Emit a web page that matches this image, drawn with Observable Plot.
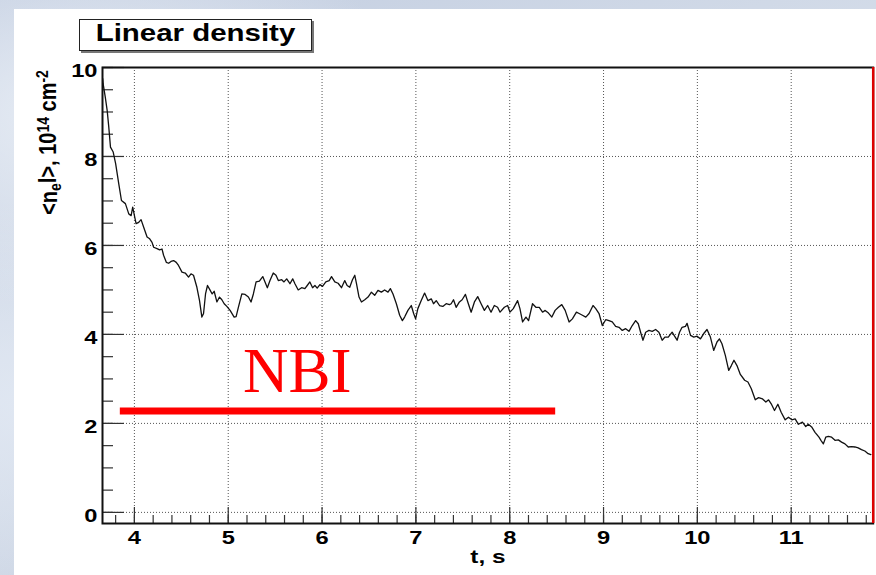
<!DOCTYPE html>
<html>
<head>
<meta charset="utf-8">
<script src="https://cdn.jsdelivr.net/npm/d3@7"></script>
<script src="https://cdn.jsdelivr.net/npm/@observablehq/plot@0.6"></script>
<style>
html, body { margin: 0; padding: 0; }
body {
  width: 876px; height: 575px; overflow: hidden; position: relative;
  background:
    radial-gradient(ellipse at 10% 20%, rgba(235,240,247,0.9) 0%, rgba(235,240,247,0) 30%),
    radial-gradient(ellipse at 5% 70%, rgba(225,232,243,0.9) 0%, rgba(225,232,243,0) 35%),
    linear-gradient(160deg, #c2cde0 0%, #d6deea 45%, #bfcadc 100%);
}
#chart { position: absolute; left: 14px; top: 9px; }
#title {
  position: absolute; left: 79px; top: 19px; width: 231px; height: 30px;
  border: 1px solid #222; box-shadow: 2px 2px 0 #777; background: #fff;
}
#title span {
  position: absolute; left: 0; right: 0; top: 0; text-align: center;
  line-height: 30px; font: bold 23px "Liberation Sans", Arial, sans-serif;
  transform: scaleX(1.28); white-space: nowrap; color: #000;
}
</style>
</head>
<body>
<div id="chart"></div>
<div id="title"><span>Linear density</span></div>
<script>
// ---- data ----
const time = [3.662,3.667,3.69,3.71,3.727,3.745,3.774,3.80,3.833,3.862,3.904,3.94,3.965,3.982,4.003,4.018,4.046,4.071,4.099,4.135,4.163,4.188,4.205,4.241,4.269,4.294,4.311,4.34,4.365,4.39,4.418,4.446,4.47,4.507,4.542,4.577,4.603,4.63,4.666,4.694,4.719,4.737,4.758,4.779,4.808,4.829,4.85,4.879,4.907,4.932,4.957,4.985,5.02,5.063,5.084,5.108,5.145,5.18,5.215,5.243,5.268,5.297,5.332,5.368,5.392,5.417,5.445,5.48,5.509,5.534,5.57,5.594,5.623,5.658,5.687,5.711,5.746,5.782,5.817,5.842,5.87,5.899,5.924,5.948,5.977,6.005,6.04,6.076,6.101,6.136,6.171,6.207,6.242,6.267,6.295,6.324,6.349,6.367,6.394,6.42,6.455,6.49,6.526,6.561,6.596,6.632,6.667,6.703,6.728,6.756,6.792,6.827,6.856,6.88,6.915,6.951,6.976,6.997,7.021,7.057,7.093,7.128,7.164,7.188,7.217,7.252,7.287,7.323,7.358,7.376,7.401,7.429,7.464,7.493,7.528,7.553,7.589,7.624,7.659,7.695,7.73,7.765,7.801,7.836,7.871,7.897,7.943,7.978,8.003,8.038,8.084,8.109,8.137,8.173,8.201,8.243,8.279,8.315,8.35,8.378,8.413,8.449,8.484,8.519,8.555,8.591,8.633,8.668,8.711,8.74,8.775,8.811,8.846,8.888,8.917,8.952,8.987,9.023,9.058,9.093,9.129,9.165,9.2,9.236,9.271,9.306,9.342,9.37,9.395,9.42,9.449,9.484,9.519,9.555,9.59,9.625,9.654,9.69,9.731,9.757,9.784,9.81,9.837,9.873,9.89,9.927,9.962,9.997,10.033,10.068,10.103,10.139,10.174,10.209,10.235,10.262,10.298,10.334,10.362,10.39,10.422,10.458,10.504,10.539,10.575,10.617,10.652,10.695,10.73,10.759,10.787,10.822,10.858,10.893,10.936,10.971,11.007,11.042,11.077,11.12,11.155,11.183,11.218,11.254,11.296,11.317,11.343,11.368,11.396,11.431,11.467,11.502,11.537,11.573,11.608,11.643,11.679,11.714,11.749,11.785,11.82,11.849];
const density = [9.75,9.63,9.33,9.03,8.66,8.21,8.10,7.84,7.39,7.01,6.94,6.71,6.67,6.86,6.64,6.49,6.52,6.58,6.41,6.19,6.15,6.07,5.96,5.93,5.90,5.92,5.78,5.62,5.60,5.64,5.66,5.62,5.55,5.40,5.38,5.29,5.36,5.33,5.06,4.76,4.39,4.47,4.91,5.10,4.99,4.91,4.97,4.73,4.84,4.78,4.69,4.63,4.54,4.39,4.40,4.61,4.91,4.90,4.84,4.73,4.91,5.18,5.20,5.30,5.18,5.05,5.21,5.38,5.33,5.21,5.23,5.18,5.25,5.14,5.25,5.14,5.00,5.05,5.03,5.10,5.18,5.05,5.10,5.04,5.12,5.08,5.18,5.21,5.30,5.18,5.15,5.05,5.21,5.10,5.06,5.23,5.33,5.14,4.84,4.73,4.78,4.84,4.95,4.88,4.99,4.95,5.00,4.95,5.03,4.91,4.69,4.43,4.31,4.39,4.54,4.65,4.47,4.35,4.58,4.76,4.93,4.76,4.80,4.69,4.76,4.65,4.63,4.69,4.67,4.69,4.78,4.61,4.73,4.78,4.90,4.73,4.50,4.73,4.85,4.69,4.54,4.65,4.50,4.65,4.61,4.50,4.61,4.65,4.50,4.58,4.76,4.58,4.28,4.39,4.31,4.69,4.61,4.61,4.50,4.54,4.48,4.39,4.54,4.61,4.67,4.54,4.28,4.35,4.50,4.47,4.43,4.39,4.47,4.65,4.58,4.47,4.20,4.33,4.31,4.28,4.18,4.16,4.09,4.13,4.07,4.20,4.31,4.24,4.05,3.87,4.05,4.09,4.07,4.11,4.05,3.87,3.94,3.94,4.05,3.96,3.87,4.05,4.16,4.18,4.25,3.98,3.94,3.96,3.90,4.02,4.11,3.94,3.64,3.83,3.90,3.79,3.53,3.19,3.30,3.42,3.30,3.10,2.97,2.93,2.78,2.53,2.58,2.55,2.48,2.53,2.44,2.29,2.43,2.25,2.08,2.14,2.08,2.10,1.98,2.03,1.93,1.98,1.92,1.80,1.69,1.62,1.54,1.69,1.71,1.69,1.62,1.63,1.58,1.54,1.47,1.48,1.47,1.45,1.41,1.38,1.32,1.30];

const xMajorTicks = [4, 5, 6, 7, 8, 9, 10, 11];
const yMajorTicks = [0, 2, 4, 6, 8, 10];
const yGridLines = [0, 2, 4, 6, 8];
const xDomain = [3.66, 11.874];
const yDomain = [-0.25, 10];

const nbiStart = 3.85, nbiEnd = 8.49, nbiLevel = 2.28;
const nbiLabel = "NBI", nbiLabelX = 5.158, nbiLabelY = 2.7;
const markerTime = 11.874;
const xTitle = "t, s";
const yTitle = "YTITLE";

// ---- chart ----
const W = 862, H = 566, mL = 88, mR = 3.3, mT = 58, mB = 52;
const kx = (W - mL - mR) / (xDomain[1] - xDomain[0]);
const ky = (H - mT - mB) / (yDomain[1] - yDomain[0]);
const xMinor = d3.range(3.8, 11.81, 0.2);
const yMinor = d3.range(0, 10.01, 0.5);

const data = time.map((t, i) => ({t, v: density[i]}));
const grid = {stroke: "#555", strokeDasharray: "1,2", strokeWidth: 1};
const tk = {stroke: "#333", strokeWidth: 1.2};

const chart = Plot.plot({
  width: W, height: H,
  marginLeft: mL, marginRight: mR, marginTop: mT, marginBottom: mB,
  x: {domain: xDomain},
  y: {domain: yDomain},
  style: {background: "white", fontFamily: '"Liberation Sans", Arial, sans-serif', fontWeight: "bold", color: "black", overflow: "visible"},
  marks: [
    Plot.ruleX(xMajorTicks, grid),
    Plot.ruleY(yGridLines, grid),
    Plot.ruleX(xMinor, {...tk, y1: yDomain[0], y2: yDomain[0] + 8 / ky}),
    Plot.ruleX(xMajorTicks, {...tk, y1: yDomain[0], y2: yDomain[0] + 16 / ky}),
    Plot.ruleY(yMinor, {...tk, x1: xDomain[0], x2: xDomain[0] + 11 / kx}),
    Plot.ruleY(yMajorTicks, {...tk, x1: xDomain[0], x2: xDomain[0] + 22 / kx}),
    Plot.line(data, {x: "t", y: "v", stroke: "#111", strokeWidth: 1.3}),
    Plot.ruleY([nbiLevel], {x1: nbiStart, x2: nbiEnd, stroke: "#ff0000", strokeWidth: 7}),
    Plot.text([nbiLabel], {x: nbiLabelX, y: nbiLabelY, text: d => d, textAnchor: "start", lineAnchor: "bottom", fill: "#ff0000", fontSize: 63, fontWeight: "normal", fontFamily: '"Liberation Serif", "Times New Roman", serif'}),
    Plot.frame({stroke: "#111", strokeWidth: 2}),
    Plot.ruleX([markerTime], {stroke: "#dd0000", strokeWidth: 2.5}),
    Plot.axisX({ticks: xMajorTicks, tickSize: 0, tickPadding: 7, tickFormat: d => String(d), label: null, fontSize: 18.5, fontWeight: "bold"}),
    Plot.axisY({ticks: yMajorTicks, tickSize: 0, tickPadding: 5, dy: 4, tickFormat: d => String(d), label: null, fontSize: 18.5, fontWeight: "bold"}),
    Plot.text([xTitle], {frameAnchor: "bottom", dy: 39, text: d => d, fontSize: 19, fontWeight: "bold"}),
    Plot.text([yTitle], {frameAnchor: "top-left", dx: -46, dy: 75, rotate: -90, text: d => d, textAnchor: "middle", lineAnchor: "bottom", fontSize: 20, fontWeight: "bold"})
  ]
});
document.getElementById("chart").appendChild(chart);

// horizontal stretch of glyphs about each text's own anchor point
function stretchX(node, sx) {
  const el = d3.select(node);
  const tr = el.attr("transform") || "";
  const x = parseFloat(el.attr("x")) || 0;
  el.attr("transform", `${tr} translate(${x},0) scale(${sx},1) translate(${-x},0)`);
}

d3.select(chart).selectAll("text").each(function () {
  const s = d3.select(this).text();
  if (s === nbiLabel) return;
  if (s === yTitle) {
    const el = d3.select(this);
    el.text(null);
    el.append("tspan").text("<n");
    el.append("tspan").attr("font-size", "14px").attr("dy", "0.28em").text("e");
    el.append("tspan").attr("dy", "-0.2em").text("l>, 10");
    el.append("tspan").attr("font-size", "14px").attr("dy", "-0.45em").text("14");
    el.append("tspan").attr("dy", "0.3em").text(" cm");
    el.append("tspan").attr("font-size", "14px").attr("dy", "-0.45em").text("-2");
    el.attr("transform", (el.attr("transform") || "") + " scale(1,1.2)");
    return;
  }
  stretchX(this, 1.28);
});
</script>
</body>
</html>
